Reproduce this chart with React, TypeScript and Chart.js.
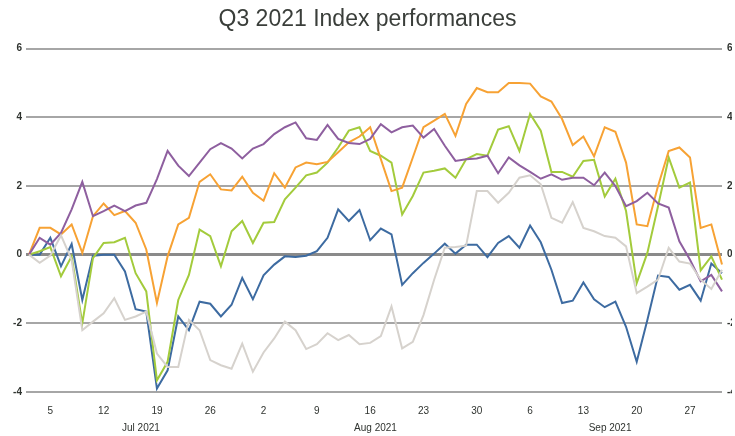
import { useEffect, useRef } from "react";
import { Chart, registerables } from "chart.js";

Chart.register(...registerables);

const dates = [
  "2021-07-01", "2021-07-02", "2021-07-05", "2021-07-06", "2021-07-07", "2021-07-08", "2021-07-09",
  "2021-07-12", "2021-07-13", "2021-07-14", "2021-07-15", "2021-07-16",
  "2021-07-19", "2021-07-20", "2021-07-21", "2021-07-22", "2021-07-23",
  "2021-07-26", "2021-07-27", "2021-07-28", "2021-07-29", "2021-07-30",
  "2021-08-02", "2021-08-03", "2021-08-04", "2021-08-05", "2021-08-06",
  "2021-08-09", "2021-08-10", "2021-08-11", "2021-08-12", "2021-08-13",
  "2021-08-16", "2021-08-17", "2021-08-18", "2021-08-19", "2021-08-20",
  "2021-08-23", "2021-08-24", "2021-08-25", "2021-08-26", "2021-08-27",
  "2021-08-30", "2021-08-31", "2021-09-01", "2021-09-02", "2021-09-03",
  "2021-09-06", "2021-09-07", "2021-09-08", "2021-09-09", "2021-09-10",
  "2021-09-13", "2021-09-14", "2021-09-15", "2021-09-16", "2021-09-17",
  "2021-09-20", "2021-09-21", "2021-09-22", "2021-09-23", "2021-09-24",
  "2021-09-27", "2021-09-28", "2021-09-29", "2021-09-30",
];

const monthKeys = ["2021-07", "2021-08", "2021-09"];
const monthLabels = ["Jul 2021", "Aug 2021", "Sep 2021"];

const yTicks = [-4, -2, 0, 2, 4, 6];

const graySeries = [
  0, -0.24, -0.03, 0.56, -0.15, -2.2, -1.95, -1.71, -1.27, -1.9, -1.8, -1.66, -2.88, -3.27, -3.27, -1.9, -2.2, -3.07, -3.22, -3.32, -2.59, -3.41, -2.85,
  -2.44, -1.95, -2.2, -2.75, -2.61, -2.29, -2.49, -2.34, -2.61, -2.57, -2.37, -1.51, -2.73, -2.54, -1.76, -0.73, 0.2, 0.22, 0.26, 1.85, 1.85, 1.51,
  1.8, 2.24, 2.31, 2.05, 1.07, 0.93, 1.53, 0.78, 0.68, 0.54, 0.49, 0.24, -1.12, -0.93, -0.73, 0.2, -0.2, -0.26, -0.73, -1.0, -0.44,
];

const purpleSeries = [
  0, 0.49, 0.29, 0.63, 1.32, 2.12, 1.12, 1.27, 1.43, 1.27, 1.43, 1.51, 2.2, 3.02, 2.59, 2.29, 2.68, 3.07, 3.25, 3.09, 2.8, 3.09, 3.22,
  3.51, 3.71, 3.85, 3.39, 3.34, 3.78, 3.37, 3.25, 3.22, 3.37, 3.8, 3.56, 3.71, 3.76, 3.41, 3.66, 3.17, 2.73, 2.78, 2.8, 2.88, 2.37,
  2.83, 2.6, 2.41, 2.21, 2.34, 2.18, 2.24, 2.24, 2.02, 2.39, 2.0, 1.41, 1.56, 1.8, 1.49, 1.37, 0.39, -0.15, -0.78, -0.59, -1.07,
];

const orangeSeries = [
  0, 0.78, 0.78, 0.59, 0.88, 0.05, 1.12, 1.49, 1.15, 1.27, 0.93, 0.15, -1.41, -0.05, 0.88, 1.07, 2.12, 2.34, 1.9, 1.87, 2.27, 1.8, 1.57,
  2.37, 1.95, 2.54, 2.68, 2.63, 2.7, 2.98, 3.27, 3.44, 3.71, 2.78, 1.85, 1.95, 2.83, 3.71, 3.9, 4.1, 3.46, 4.39, 4.85, 4.73, 4.73,
  5.0, 5.0, 4.98, 4.61, 4.46, 3.95, 3.19, 3.44, 2.86, 3.71, 3.58, 2.68, 0.88, 0.83, 2.0, 3.02, 3.12, 2.83, 0.78, 0.88, -0.29,
];

const greenSeries = [
  0, 0.1, 0.22, -0.63, -0.05, -2.0, -0.1, 0.34, 0.36, 0.49, -0.54, -1.07, -3.66, -3.12, -1.32, -0.59, 0.73, 0.54, -0.34, 0.68, 0.98, 0.34, 0.93,
  0.95, 1.61, 1.95, 2.31, 2.39, 2.68, 3.12, 3.61, 3.71, 3.02, 2.88, 2.68, 1.17, 1.71, 2.39, 2.44, 2.51, 2.24, 2.78, 2.93, 2.88, 3.64,
  3.74, 3.02, 4.1, 3.61, 2.41, 2.41, 2.27, 2.73, 2.76, 1.69, 2.21, 1.27, -0.83, 0.05, 1.41, 2.83, 1.95, 2.1, -0.46, -0.05, -0.73,
];

const blueSeries = [
  0, 0, 0.49, -0.34, 0.31, -1.32, -0.03, 0, 0, -0.49, -1.59, -1.66, -3.9, -3.37, -1.8, -2.2, -1.37, -1.43, -1.8, -1.46, -0.68, -1.3, -0.6,
  -0.29, -0.05, -0.07, -0.03, 0.1, 0.49, 1.32, 0.98, 1.3, 0.42, 0.76, 0.59, -0.88, -0.54, -0.24, 0.03, 0.32, 0.03, 0.29, 0.29, -0.07, 0.34,
  0.54, 0.2, 0.85, 0.36, -0.44, -1.41, -1.34, -0.81, -1.3, -1.53, -1.37, -2.1, -3.12, -1.9, -0.61, -0.65, -1.02, -0.88, -1.34, -0.26, -0.54,
];

const seriesNames = ["Index E", "Index D", "Index C", "Index B", "Index A"];
const seriesColors = ["#d6d2cd", "#8e5f9f", "#f7a234", "#a3cb3c", "#3d6ba1"];

const FONT = "'Liberation Sans', Arial, sans-serif";
const TICK_COLOR = "#2f332f";

const monthLabelPlugin = {
  id: "monthLabels",
  afterDraw(chart: any) {
    const x = chart.scales.x;
    const ctx = chart.ctx;
    ctx.save();
    ctx.font = `10px ${FONT}`;
    ctx.fillStyle = TICK_COLOR;
    ctx.textAlign = "center";
    ctx.textBaseline = "middle";
    monthKeys.forEach((key, m) => {
      const idx = dates.map((d, i) => (d.startsWith(key) ? i : -1)).filter((i) => i >= 0);
      const first = x.getPixelForValue(idx[0]);
      const last = x.getPixelForValue(idx[idx.length - 1]);
      ctx.fillText(monthLabels[m], (first + last) / 2, 428);
    });
    ctx.restore();
  },
};

export default function App() {
  const ref = useRef<HTMLCanvasElement | null>(null);

  useEffect(() => {
    if (!ref.current) return;
    const data = [graySeries, purpleSeries, orangeSeries, greenSeries, blueSeries];
    const chart = new Chart(ref.current, {
      type: "line",
      data: {
        labels: dates,
        datasets: data.map((d, i) => ({
          label: seriesNames[i],
          data: d,
          borderColor: seriesColors[i],
          backgroundColor: seriesColors[i],
          borderWidth: 2,
          pointRadius: 0,
          tension: 0,
          fill: false,
        })),
      },
      options: {
        animation: false,
        responsive: true,
        maintainAspectRatio: false,
        layout: { padding: { top: 6, left: 0, right: 0, bottom: 0 } },
        plugins: {
          legend: { display: false },
          tooltip: { enabled: false },
          title: {
            display: true,
            text: "Q3 2021 Index performances",
            color: "#3a3e3a",
            font: { family: FONT, size: 23, weight: "normal" },
            padding: { top: 0, bottom: 15 },
          },
        },
        scales: {
          x: {
            type: "category",
            offset: false,
            grid: { display: false, drawTicks: false },
            border: { display: false },
            ticks: {
              autoSkip: false,
              maxRotation: 0,
              minRotation: 0,
              padding: 13,
              color: TICK_COLOR,
              font: { family: FONT, size: 10 },
              callback: (_v: any, i: number) => {
                const d = new Date(dates[i] + "T12:00:00Z");
                return d.getUTCDay() === 1 ? String(d.getUTCDate()) : "";
              },
            },
            afterFit: (s: any) => {
              s.height = 44;
            },
          },
          y: {
            position: "left",
            min: -4,
            max: 6,
            afterBuildTicks: (s: any) => {
              s.ticks = yTicks.map((v) => ({ value: v }));
            },
            grid: {
              color: (c: any) => (c.tick && c.tick.value === 0 ? "#8a8a8a" : "#a6a6a6"),
              lineWidth: (c: any) => (c.tick && c.tick.value === 0 ? 3 : 2),
              tickLength: 3,
            },
            border: { display: false },
            ticks: {
              padding: 4,
              color: TICK_COLOR,
              font: { family: FONT, size: 10, weight: "bold" },
            },
            afterFit: (s: any) => {
              s.width = 29;
            },
          },
          y2: {
            position: "right",
            min: -4,
            max: 6,
            afterBuildTicks: (s: any) => {
              s.ticks = yTicks.map((v) => ({ value: v }));
            },
            grid: { display: false, drawTicks: false },
            border: { display: false },
            ticks: {
              padding: 5,
              color: TICK_COLOR,
              font: { family: FONT, size: 10, weight: "bold" },
            },
            afterFit: (s: any) => {
              s.width = 10;
            },
          },
        },
      },
      plugins: [monthLabelPlugin],
    });
    return () => chart.destroy();
  }, []);

  return (
    <div style={{ position: "fixed", left: 0, top: 0, width: 735, height: 436, background: "#fff" }}>
      <canvas ref={ref} />
    </div>
  );
}
